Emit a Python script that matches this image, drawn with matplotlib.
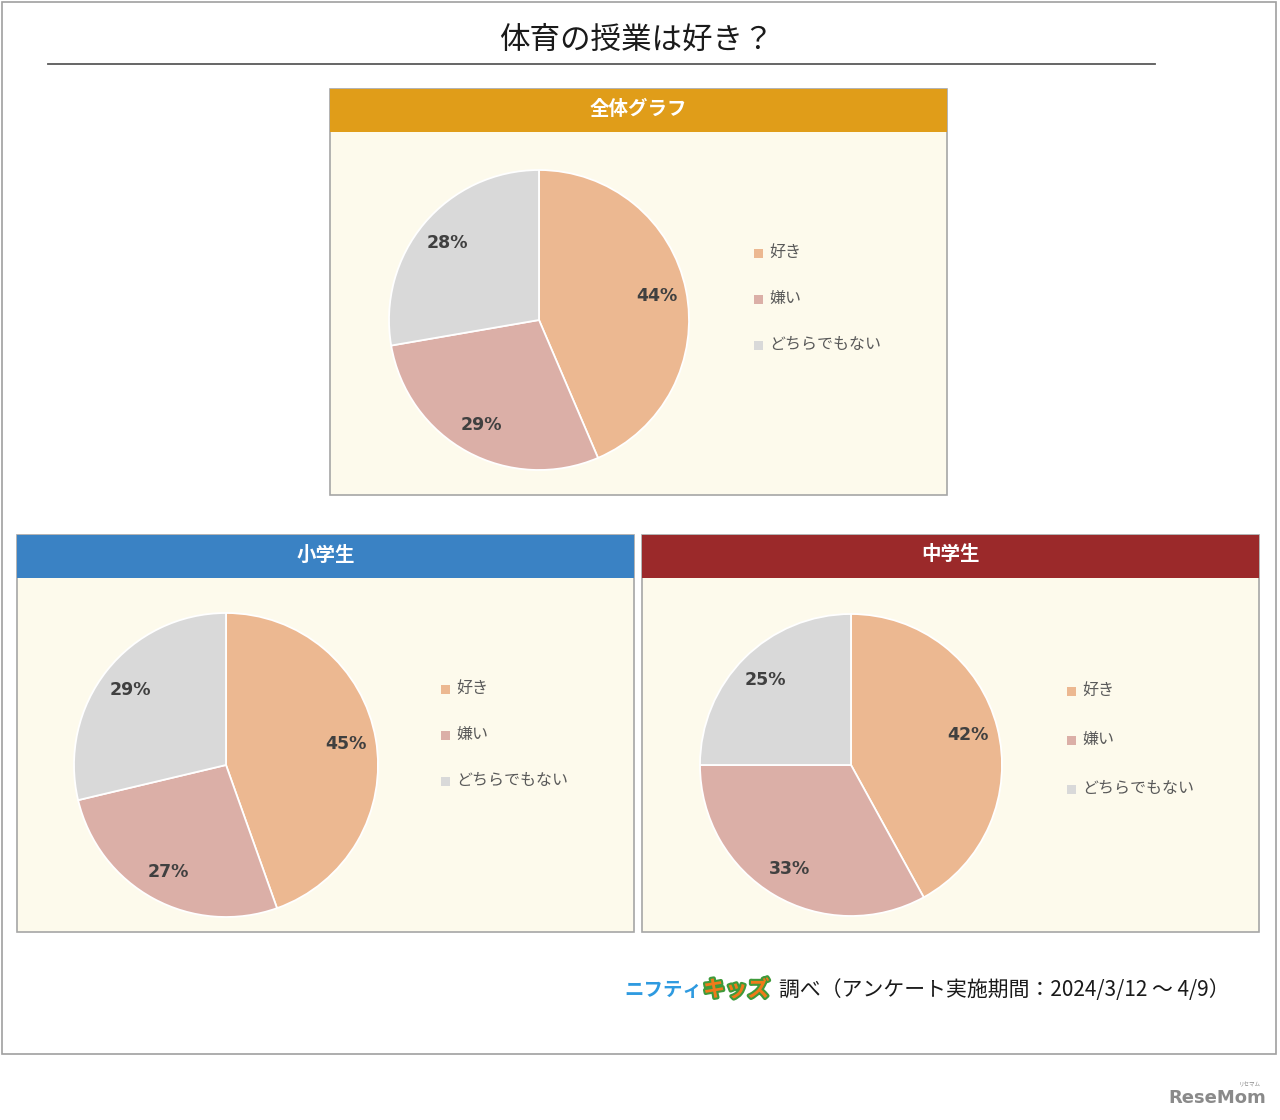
import matplotlib.pyplot as plt
import matplotlib.patheffects as pe
from matplotlib.patches import Rectangle

plt.rcParams['font.family'] = ['Noto Sans CJK JP', 'DejaVu Sans']

# data
title = '体育の授業は好き？'
categories = ['好き', '嫌い', 'どちらでもない']
colors = ['#ECB891', '#DBAFA7', '#D9D9D9']
panel_titles = ['全体グラフ', '小学生', '中学生']
header_colors = ['#E09D19', '#3A82C4', '#9B292A']
values_all = [44, 29, 28]
values_elem = [45, 27, 29]
values_junior = [42, 33, 25]
source_brand1 = 'ニフティ'
source_brand2 = 'キッズ'
source_text = '調べ（アンケート実施期間：2024/3/12 ～ 4/9）'

W, H = 1280, 1120
fig = plt.figure(figsize=(W / 100, H / 100), dpi=100)
fig.patch.set_facecolor('white')

# overlay axes in pixel coordinates
bg = fig.add_axes([0, 0, 1, 1])
bg.set_xlim(0, W)
bg.set_ylim(H, 0)
bg.axis('off')

# outer frame, title and rule
bg.add_patch(Rectangle((2, 2), 1274, 1052, fill=False, ec='#A0A0A0', lw=1.2))
bg.text(636, 40, title, ha='center', va='center', fontsize=22, color='#1A1A1A')
bg.plot([48, 1155], [64, 64], color='#595959', lw=1.3)

# panels: (x, y, w, h), pie centre, radius, legend x, legend y's, values
panels = [
    ((330, 89, 617, 406), (539, 320), 150, 754, [253, 299, 345], values_all),
    ((17, 535, 617, 397), (226, 765), 152, 441, [689, 735, 781], values_elem),
    ((642, 535, 617, 397), (851, 765), 151, 1067, [691, 740, 789], values_junior),
]

for (box, (cx, cy), r, lx, lys, vals), ptitle, hcol in zip(panels, panel_titles, header_colors):
    x, y, w, h = box
    bg.add_patch(Rectangle((x, y), w, h, fc='#FDFAEC', ec='#A6A6A6', lw=1.2, zorder=1))
    bg.add_patch(Rectangle((x, y), w, 43, fc=hcol, ec='none', zorder=2))
    bg.text(x + w / 2, y + 20, ptitle, ha='center', va='center', fontsize=14,
            fontweight='bold', color='white', zorder=3)

    # legend
    for cat, col, ly in zip(categories, colors, lys):
        bg.add_patch(Rectangle((lx, ly - 4.5), 9, 9, fc=col, ec='none', zorder=3))
        bg.text(lx + 15, ly - 1, cat, ha='left', va='center', fontsize=11.5,
                color='#595959', zorder=3)

    # pie
    ax = fig.add_axes([(cx - r) / W, 1 - (cy + r) / H, 2 * r / W, 2 * r / H])
    wedges, texts, autotexts = ax.pie(
        vals, colors=colors, startangle=90, counterclock=False,
        autopct=lambda p: '%d%%' % round(p * sum(vals) / 100), pctdistance=0.8,
        wedgeprops=dict(edgecolor='white', linewidth=1.3),
        textprops=dict(fontsize=12.5, fontweight='bold', color='#404040',
                       family='DejaVu Sans'))
    ax.set_xlim(-1, 1)
    ax.set_ylim(-1, 1)
    ax.set_aspect('equal')
    ax.axis('off')

# source line
bg.text(624, 991, source_brand1, ha='left', va='center', fontsize=14,
        fontweight='bold', color='#2E9AE0')
bg.text(703, 990, source_brand2, ha='left', va='center', fontsize=16,
        fontweight='bold', color='#F07A1A',
        path_effects=[pe.Stroke(linewidth=3, foreground='#3E9A3A'), pe.Normal()])
bg.text(1230, 990, source_text, ha='right', va='center', fontsize=15, color='#1A1A1A')

# site mark
bg.text(1217, 1098, 'ReseMom', ha='center', va='center', fontsize=13,
        fontweight='bold', color='#8A8A8A', family='DejaVu Sans')
bg.text(1250, 1085, 'リセマム', ha='center', va='center', fontsize=4, color='#8A8A8A')

fig.savefig('out.png', dpi=100)
